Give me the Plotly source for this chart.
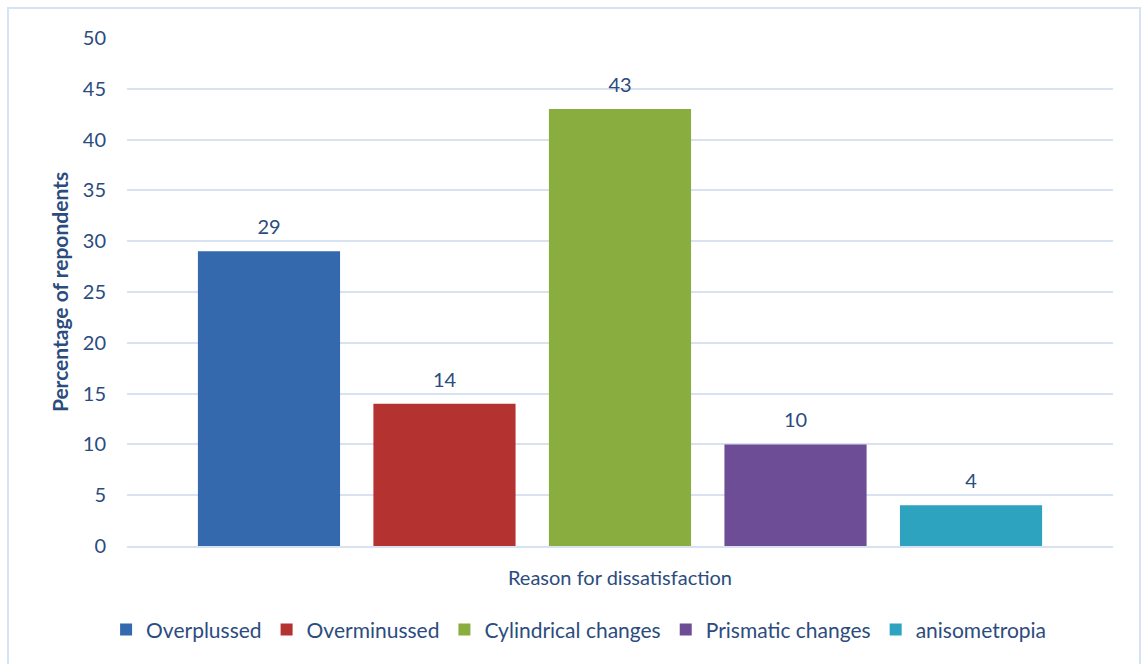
import plotly.graph_objects as go

category = ["Reason for dissatisfaction"]
series_names = ["Overplussed", "Overminussed", "Cylindrical changes", "Prismatic changes", "anisometropia"]
series_values = [29, 14, 43, 10, 4]
series_colors = ["#3469AE", "#B43230", "#8AAD40", "#6D4D95", "#2DA3C0"]
y_ticks = [0, 5, 10, 15, 20, 25, 30, 35, 40, 45, 50]

text_color = "#2B4C7E"
font_family = "Lato, 'Open Sans', sans-serif"

fig = go.Figure()
for i, (name, val, col) in enumerate(zip(series_names, series_values, series_colors)):
    fig.add_trace(go.Bar(
        x=category, y=[val], name=name, offsetgroup=str(i),
        marker=dict(color=col, line=dict(width=0)),
    ))
for i, (name, val) in enumerate(zip(series_names, series_values)):
    fig.add_trace(go.Scatter(
        x=category, y=[val], mode="markers+text", offsetgroup=str(i),
        marker=dict(size=18, opacity=0), text=[str(val)], textposition="top center",
        textfont=dict(size=20, color=text_color, family=font_family),
        showlegend=False, hoverinfo="skip", cliponaxis=False,
    ))

fig.update_layout(
    width=1142, height=664,
    margin=dict(l=127, r=29, t=38, b=118),
    paper_bgcolor="white", plot_bgcolor="white",
    barmode="group", bargap=0.11, bargroupgap=0.19,
    scattermode="group", scattergap=0.11,
    font=dict(family=font_family, color=text_color, size=20),
    showlegend=True,
    legend=dict(orientation="h", x=0.458, xanchor="center", y=-0.165, yanchor="middle",
                font=dict(size=21, color=text_color), itemwidth=30,
                traceorder="normal"),
    shapes=[dict(type="rect", xref="paper", yref="paper",
                 x0=-119/986, x1=1013/986, y0=-130/508, y1=1 + 30/508,
                 line=dict(color="#D6E3F3", width=2), layer="below")],
)
fig.update_yaxes(range=[0, 50], tickvals=y_ticks, showgrid=True, gridcolor="#D9E2F0", gridwidth=1.5,
                 zeroline=False, showline=False, ticks="", ticklabelstandoff=20,
                 tickfont=dict(size=20, color=text_color),
                 title=dict(text="<b>Percentage of repondents</b>", font=dict(size=21, color=text_color), standoff=8))
fig.update_xaxes(showline=True, linecolor="#D9E2F0", linewidth=1.5, ticks="", ticklabelstandoff=13,
                 tickfont=dict(size=20, color=text_color))

fig.write_html("out.html")
